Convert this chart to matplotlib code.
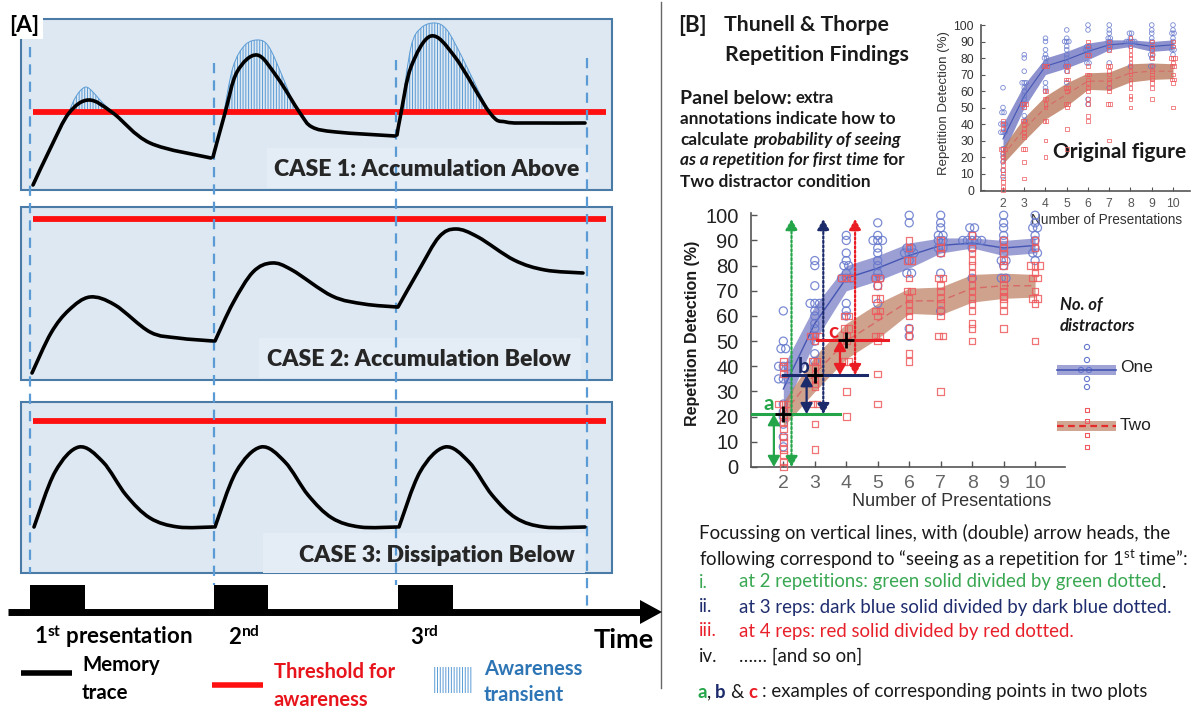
import matplotlib
matplotlib.use('Agg')
import matplotlib.pyplot as plt
from matplotlib.path import Path
from matplotlib.patches import PathPatch, Rectangle, Polygon, FancyArrowPatch
import numpy as np

plt.rcParams['font.family'] = ['Lato', 'DejaVu Sans']
plt.rcParams['hatch.linewidth'] = 0.7
plt.rcParams['mathtext.fontset'] = 'custom'
plt.rcParams['mathtext.rm'] = 'Lato'
plt.rcParams['mathtext.bf'] = 'Lato:bold'
plt.rcParams['mathtext.it'] = 'Lato:italic'

# ------------------------------------------------------------------ data (panel B)
PRESENTATIONS = [2, 3, 4, 5, 6, 7, 8, 9, 10]
ONE_MEAN = [31, 57, 75, 79, 84, 88, 89, 87, 88]
ONE_ERR = [9, 7, 5, 5, 5, 3, 2, 3, 3]
TWO_MEAN = [21, 37, 50, 58, 66, 66, 71, 72, 72]
TWO_ERR = [5, 7, 7, 7, 5, 5.5, 5.5, 5, 4.5]

ONE_POINTS = [
    [62, 50, 47, 47, 40, 40, 40, 35, 35, 35, 25, 22, 20, 17, 12, 8],
    [82, 80, 72, 65, 65, 65, 62, 60, 57, 55, 52, 50, 45, 42],
    [92, 90, 85, 82, 80, 80, 77, 75, 75, 75, 65, 62, 60],
    [97, 92, 90, 90, 90, 87, 85, 82, 80, 77, 75, 75, 72, 65],
    [100, 97, 87, 87, 85, 85, 85, 82, 77, 77, 55, 52],
    [100, 97, 95, 92, 92, 90, 90, 87, 87, 85, 77, 62],
    [95, 95, 92, 90, 90, 90, 90, 90, 87, 75],
    [100, 97, 95, 92, 90, 87, 85, 82, 82, 80, 75, 75],
    [100, 97, 95, 95, 92, 90, 87, 85, 85, 82],
]
TWO_POINTS = [
    [42, 40, 37, 25, 25, 25, 22, 20, 18, 15, 12, 10, 7, 5, 2, 0],
    [52, 52, 52, 50, 42, 42, 40, 37, 35, 33, 32, 25, 25, 17, 7],
    [75, 75, 75, 60, 60, 55, 55, 52, 50, 42, 42, 30, 20],
    [75, 75, 72, 67, 67, 62, 62, 60, 52, 52, 50, 37, 25],
    [90, 87, 82, 82, 75, 70, 70, 67, 65, 62, 60, 55, 52, 45, 42],
    [90, 87, 85, 75, 75, 72, 70, 67, 65, 62, 60, 52, 52, 30],
    [92, 87, 85, 82, 80, 77, 75, 72, 70, 67, 65, 62, 57, 55, 50],
    [90, 87, 85, 82, 80, 75, 72, 70, 68, 67, 65, 62, 55],
    [90, 87, 80, 80, 80, 77, 75, 75, 70, 67, 67, 65, 50],
]
Y_TICKS = [0, 10, 20, 30, 40, 50, 60, 70, 80, 90, 100]

# annotation levels for the two-distractor condition at 2, 3, 4 presentations
ANNOT_X = [2, 3, 4]
ANNOT_Y = [21, 36.5, 50.5]
ANNOT_BASE = [0, 21, 36.5]
ANNOT_TOP = 98.5
ANNOT_SOLID_X = [1.70, 2.74, 3.80]
ANNOT_DOT_X = [2.26, 3.27, 4.28]
ANNOT_HLINE = [(0.99, 3.80), (2.00, 4.65), (3.06, 5.34)]
ANNOT_LABEL = ['a', 'b', 'c']
ANNOT_LABEL_POS = [(1.55, 25), (2.64, 39.7), (3.59, 53.8)]
ANNOT_COLORS = ['#25a549', '#1b2a6b', '#ea1c24']

# ------------------------------------------------------------------ schematic (panel A)
# memory-trace anchor points per presentation segment (pixel-like schematic units)
CASE1_SEGS = [
    [(33, 185), (51, 147), (69, 113), (89, 100), (113, 113), (150, 143), (211, 158)],
    [(213, 157), (225, 113), (237, 72), (257, 55), (277, 77), (300, 113), (312, 127), (336, 132), (395, 136)],
    [(397, 135), (401, 113), (411, 67), (431, 36), (455, 57), (490, 113), (506, 122), (534, 123), (585, 123)],
]
CASE2_SEGS = [
    [(32, 373), (51, 333), (69, 310), (90, 297), (115, 305), (150, 332), (178, 338), (213, 341)],
    [(215, 341), (233, 303), (253, 272), (272, 263), (292, 270), (332, 296), (364, 304), (397, 307)],
    [(398, 307), (419, 270), (439, 237), (456, 229), (478, 237), (514, 260), (545, 270), (583, 273)],
]
CASE3_SEGS = [
    [(34, 527), (55, 472), (79, 447), (103, 462), (126, 495), (150, 518), (178, 527), (213, 527)],
    [(215, 527), (236, 472), (261, 447), (285, 462), (308, 495), (332, 518), (360, 527), (397, 527)],
    [(399, 527), (420, 472), (445, 447), (469, 462), (492, 495), (516, 518), (544, 527), (585, 527)],
]
THRESHOLDS = [112, 219, 421]
AWARENESS = [
    [(69, 112), (74, 100), (80, 91), (86, 87), (92, 91), (100, 100), (108, 108), (113, 112)],
    [(224, 112), (233, 67), (245, 45), (259, 40), (269, 47), (281, 73), (292, 100), (297, 112)],
    [(401, 112), (411, 47), (421, 28), (435, 23), (447, 30), (462, 57), (478, 90), (489, 112)],
]
CASE_LABELS = ['CASE 1: Accumulation Above', 'CASE 2: Accumulation Below', 'CASE 3: Dissipation Below']
BOXES = [(21, 19, 612, 190), (21, 207, 612, 380), (21, 402, 612, 573)]
LABEL_POS = [(579, 170), (571, 360), (575, 555)]
ONSET_X = [30, 214, 396, 587]
ONSET_TOP = [47, 63, 60, 58]
ONSET_BOTTOM = [573, 585, 585, 612]
BLOCKS = [(30, 85), (214, 268), (398, 453)]

W, H = 1197, 709
fig = plt.figure(figsize=(W / 100, H / 100), dpi=100)
ov = fig.add_axes([0, 0, 1, 1])
ov.set_xlim(0, W)
ov.set_ylim(H, 0)
ov.axis('off')
R = fig.canvas.get_renderer()


def px_rect(l, t, r, b):
    return [l / W, 1 - b / H, (r - l) / W, (b - t) / H]


def smooth_path(pts):
    P = np.array(pts, float)
    verts = [P[0]]
    codes = [Path.MOVETO]
    n = len(P)
    for i in range(n - 1):
        p0 = P[i - 1] if i > 0 else P[i]
        p1, p2 = P[i], P[i + 1]
        p3 = P[i + 2] if i + 2 < n else P[i + 1]
        verts += [p1 + (p2 - p0) / 6, p2 - (p3 - p1) / 6, p2]
        codes += [Path.CURVE4] * 3
    return Path(verts, codes)


# ------------------------------------------------------------------ panel A
BOX_FILL = '#dde8f2'
BOX_EDGE = '#4a7aa6'
DASH_C = '#5b9bd5'
for (l, t, r, b), segs, thr, lab, lp in zip(BOXES, [CASE1_SEGS, CASE2_SEGS, CASE3_SEGS],
                                           THRESHOLDS, CASE_LABELS, LABEL_POS):
    ov.add_patch(Rectangle((l, t), r - l, b - t, facecolor=BOX_FILL, edgecolor=BOX_EDGE, lw=1.5, zorder=1))
    ov.add_patch(Rectangle((lp[0] - 312, lp[1] - 22), 322, 40, facecolor='#e4ecf5',
                           edgecolor='none', zorder=1.1))
    ov.plot([33, 606], [thr, thr], color='#ff1010', lw=4.2, solid_capstyle='butt', zorder=3)
    for seg in segs:
        ov.add_patch(PathPatch(smooth_path(seg), facecolor='none', edgecolor='black', lw=2.6,
                               capstyle='round', joinstyle='round', zorder=5))
    ov.text(lp[0], lp[1], lab, ha='right', va='center', fontsize=16.6, fontweight='heavy',
            color='#262626', zorder=6)

for poly in AWARENESS:
    ov.add_patch(PathPatch(smooth_path(poly), facecolor='none', edgecolor=DASH_C, lw=0.7,
                           hatch='||||||', zorder=2.5))

for x, t, b in zip(ONSET_X, ONSET_TOP, ONSET_BOTTOM):
    ov.plot([x, x], [t, b], color=DASH_C, lw=1.6, linestyle=(0, (4.6, 3.2)), zorder=4)

# timeline
for a, b in BLOCKS:
    ov.add_patch(Rectangle((a, 585), b - a, 27, facecolor='black', edgecolor='none', zorder=3))
ov.plot([8, 642], [612, 612], color='black', lw=5, solid_capstyle='butt', zorder=3)
ov.add_patch(Polygon([(640, 600), (662, 612), (640, 624)], closed=True, facecolor='black',
                     edgecolor='none', zorder=3))
ov.text(34, 637, r'1$^{\mathbf{st}}$ presentation', fontsize=16, fontweight='bold', va='center')
ov.text(228, 637, r'2$^{\mathbf{nd}}$', fontsize=16, fontweight='bold', va='center')
ov.text(410, 637, r'3$^{\mathbf{rd}}$', fontsize=16, fontweight='bold', va='center')
ov.text(654, 640, 'Time', fontsize=19.5, fontweight='bold', va='center', ha='right')
ov.text(9, 25, '[A]', fontsize=16.5, fontweight='bold', va='center', zorder=8,
        bbox=dict(boxstyle='square,pad=0.15', facecolor='white', edgecolor='none'))

# legend of panel A
ov.plot([21, 72], [673, 673], color='black', lw=4, solid_capstyle='butt')
ov.text(82, 665, 'Memory', fontsize=14.8, fontweight='bold', va='center')
ov.text(82, 693, 'trace', fontsize=14.8, fontweight='bold', va='center')
ov.plot([212, 263], [685, 685], color='#ff1010', lw=4, solid_capstyle='butt')
ov.text(274, 672, 'Threshold for', fontsize=14.5, fontweight='bold', va='center', color='#e8141c')
ov.text(274, 700, 'awareness', fontsize=14.5, fontweight='bold', va='center', color='#e8141c')
ov.add_patch(Rectangle((433, 667), 40, 26, facecolor='none', edgecolor=DASH_C, lw=0,
                       hatch='||||||'))
ov.text(484, 669, 'Awareness', fontsize=14.5, fontweight='bold', va='center', color='#2e75b6')
ov.text(484, 695, 'transient', fontsize=14.5, fontweight='bold', va='center', color='#2e75b6')

# separator
ov.plot([661, 661], [2, 688], color='#666666', lw=1.0)

# ------------------------------------------------------------------ panel B texts
K = '#1a1a1a'


def textw(s, **kw):
    t = ov.text(0, 0, s, **kw)
    w = t.get_window_extent(renderer=R).width
    t.remove()
    return w


def rich(x, y, pieces, **common):
    for s, kw in pieces:
        k = dict(va='center', ha='left', color=K)
        k.update(common)
        k.update(kw)
        sp = textw('a a', **k) - textw('aa', **k)
        lead = len(s) - len(s.lstrip(' '))
        trail = len(s) - len(s.rstrip(' '))
        core = s.strip(' ')
        x += lead * sp
        t = ov.text(x, y, core, **k)
        x += t.get_window_extent(renderer=R).width + trail * sp


ov.text(678, 25, '[B]', fontsize=16, fontweight='bold', va='center', color=K)
ov.text(724, 25, 'Thunell & Thorpe', fontsize=15.3, fontweight='bold', va='center', color=K)
ov.text(725, 55, 'Repetition Findings', fontsize=15.3, fontweight='bold', va='center', color=K)

rich(680, 98, [('Panel below:', dict(fontsize=14)), (' extra', dict(fontsize=12))],
     fontweight='bold')
fs = 12.4
ov.text(680, 119, 'annotations indicate how to', fontsize=fs, fontweight='bold', va='center', color=K)
rich(680, 140, [('calculate ', {}), ('probability of seeing', dict(style='italic'))],
     fontsize=fs, fontweight='bold')
rich(680, 160, [('as a repetition for first time', dict(style='italic')), (' for', {})],
     fontsize=fs, fontweight='bold')
ov.text(680, 182, 'Two distractor condition', fontsize=fs, fontweight='bold', va='center', color=K)

bf = 13.4
ov.text(699, 533, 'Focussing on vertical lines, with (double) arrow heads, the', fontsize=bf,
        va='center', color=K)
ov.text(699, 559, r'following correspond to “seeing as a repetition for 1$^{\mathrm{st}}$ time”:',
        fontsize=bf, va='center', color=K)
items = [('i.', 'at 2 repetitions: green solid divided by green dotted', '#3aa853'),
         ('ii.', 'at 3 reps: dark blue solid divided by dark blue dotted.', '#1f2d6e'),
         ('iii.', 'at 4 reps: red solid divided by red dotted.', '#e8202a'),
         ('iv.', '…… [and so on]', K)]
for (num, body, c), y in zip(items, [582, 607, 631, 656]):
    ov.text(699, y, num, fontsize=bf, va='center', color=c)
    if num == 'i.':
        rich(739, y, [(body, dict(color=c)), ('.', {})], fontsize=bf)
    else:
        ov.text(739, y, body, fontsize=bf, va='center', color=c)
rich(697, 692, [('a', dict(color=ANNOT_COLORS[0], fontweight='bold')), (',', {}),
                (' b', dict(color=ANNOT_COLORS[1], fontweight='bold')), (' &', {}),
                (' c', dict(color=ANNOT_COLORS[2], fontweight='bold')),
                (' : examples of corresponding points in two plots', {})], fontsize=bf)

# ------------------------------------------------------------------ charts
BLUE_PT = '#6477cc'
RED_PT = '#ee5a5e'
BLUE_BAND = '#6d72c0'
RED_BAND = '#b97658'
BLUE_LINE = '#4556b3'
RED_LINE = '#d56a66'
AXFONT = 'Liberation Sans'


def jitter(x, vals, step):
    xs, ys = [], []
    vals = list(vals)
    for v in sorted(set(vals)):
        n = vals.count(v)
        for k in range(n):
            xs.append(x + (k - (n - 1) / 2) * step)
            ys.append(v)
    return xs, ys


def draw_chart(ax, step, ms_c, ms_s, mlw, lw_line, band_alpha):
    x = np.array(PRESENTATIONS, float)
    om, oe = np.array(ONE_MEAN, float), np.array(ONE_ERR, float)
    tm, te = np.array(TWO_MEAN, float), np.array(TWO_ERR, float)
    ax.fill_between(x, om - oe, om + oe, color=BLUE_BAND, alpha=band_alpha, lw=0, zorder=1)
    ax.fill_between(x, tm - te, tm + te, color=RED_BAND, alpha=band_alpha, lw=0, zorder=1)
    for xi, vo, vt in zip(PRESENTATIONS, ONE_POINTS, TWO_POINTS):
        a, b = jitter(xi, vo, step)
        ax.scatter(a, b, s=ms_c, facecolors='none', edgecolors=BLUE_PT, linewidths=mlw,
                   alpha=0.85, zorder=3, clip_on=False)
        a, b = jitter(xi, vt, step)
        ax.scatter(a, b, s=ms_s, marker='s', facecolors='none', edgecolors=RED_PT,
                   linewidths=mlw, alpha=0.85, zorder=3, clip_on=False)
    ax.plot(x, om, color=BLUE_LINE, lw=lw_line, zorder=2)
    ax.plot(x, tm, color=RED_LINE, lw=lw_line, ls=(0, (5, 3)), zorder=2)
    for s in ['top', 'right']:
        ax.spines[s].set_visible(False)
    for s in ['left', 'bottom']:
        ax.spines[s].set_color('#555555')
        ax.spines[s].set_linewidth(1.2)
    ax.patch.set_alpha(0)
    ax.set_xticks(PRESENTATIONS)
    ax.set_yticks(Y_TICKS)


# main chart
axm = fig.add_axes(px_rect(751, 212.5, 1065, 467))
axm.set_xlim(0.973, 10.95)
axm.set_ylim(0, 101.1)
draw_chart(axm, 0.15, 34, 22, 0.9, 1.0, 0.68)
axm.tick_params(axis='both', direction='in', length=4, width=1, color='#555555')
axm.tick_params(axis='y', labelsize=14.5, labelcolor='#222222', pad=9)
axm.tick_params(axis='x', labelsize=14, labelcolor='#666666', pad=6)
for lab in axm.get_xticklabels() + axm.get_yticklabels():
    lab.set_family(AXFONT)

for i in range(3):
    c = ANNOT_COLORS[i]
    x0, x1 = ANNOT_HLINE[i]
    axm.plot([x0, x1], [ANNOT_Y[i], ANNOT_Y[i]], color=c, lw=2.2, zorder=6, clip_on=False)
    axm.add_patch(FancyArrowPatch((ANNOT_SOLID_X[i], ANNOT_BASE[i]), (ANNOT_SOLID_X[i], ANNOT_Y[i]),
                                  arrowstyle='<|-|>,head_length=0.8,head_width=0.45',
                                  mutation_scale=8, color=c, lw=1.6, shrinkA=0, shrinkB=0,
                                  zorder=6, clip_on=False))
    axm.add_patch(FancyArrowPatch((ANNOT_DOT_X[i], ANNOT_BASE[i]), (ANNOT_DOT_X[i], ANNOT_TOP),
                                  arrowstyle='<|-|>,head_length=0.8,head_width=0.45',
                                  mutation_scale=8, color=c, lw=1.6, ls=(0, (1, 1)),
                                  shrinkA=0, shrinkB=0, zorder=6, clip_on=False))
    axm.plot(ANNOT_X[i], ANNOT_Y[i], marker='+', ms=11, mew=2, color='black', zorder=7)
    axm.text(ANNOT_LABEL_POS[i][0], ANNOT_LABEL_POS[i][1], ANNOT_LABEL[i], color=c,
             fontsize=15, fontweight='bold', ha='center', va='center', zorder=7)

ov.text(692, 333, 'Repetition Detection (%)', rotation=90, fontsize=11.5, fontweight='bold',
        family=AXFONT, ha='center', va='center', color=K)
ov.text(952, 501, 'Number of Presentations', fontsize=13, family=AXFONT, ha='center',
        va='center', color='#333333')

# legend of main chart
ov.text(1060, 305, 'No. of', fontsize=12, fontweight='bold', style='italic', va='center', color=K)
ov.text(1060, 326, 'distractors', fontsize=12, fontweight='bold', style='italic', va='center',
        color=K)
ov.add_patch(Rectangle((1057, 365), 59, 10, facecolor=BLUE_BAND, alpha=0.65, edgecolor='none'))
ov.plot([1057, 1116], [370, 370], color=BLUE_LINE, lw=1.2)
ov.scatter([1087, 1087, 1081, 1089, 1087, 1087], [347, 360, 370, 370, 379, 387], s=14,
           facecolors='none', edgecolors=BLUE_PT, linewidths=0.8)
ov.text(1120, 367, 'One', fontsize=12.5, family=AXFONT, va='center', color='#222222')
ov.add_patch(Rectangle((1057, 421), 59, 10, facecolor=RED_BAND, alpha=0.65, edgecolor='none'))
ov.plot([1057, 1116], [426, 426], color='#e42a2a', lw=1.6, ls=(0, (3, 2)))
ov.scatter([1087, 1087, 1087, 1087], [410, 421, 435, 447], s=10, marker='s',
           facecolors='none', edgecolors=RED_PT, linewidths=0.8)
ov.text(1120, 425, 'Two', fontsize=12.5, family=AXFONT, va='center', color='#222222')

# inset (original figure)
axi = fig.add_axes(px_rect(981, 25, 1190, 191))
axi.set_xlim(0.965, 10.8)
axi.set_ylim(-0.6, 100)
draw_chart(axi, 0.10, 11, 7, 0.6, 0.8, 0.78)
axi.tick_params(axis='both', direction='in', length=3, width=0.8, color='#555555')
axi.tick_params(axis='y', labelsize=8.7, labelcolor='#333333', pad=5)
axi.tick_params(axis='x', labelsize=8.7, labelcolor='#555555', pad=5)
for lab in axi.get_xticklabels() + axi.get_yticklabels():
    lab.set_family(AXFONT)
ov.text(944, 103, 'Repetition Detection (%)', rotation=90, fontsize=9.5, family=AXFONT,
        ha='center', va='center', color='#333333')
ov.text(1107, 220, 'Number of Presentations', fontsize=9.8, family=AXFONT, ha='center',
        va='center', color='#333333')
ov.text(1053, 152, 'Original figure', fontsize=15, fontweight='bold', va='center', color=K,
        zorder=10)

fig.savefig('out.png', dpi=100)
